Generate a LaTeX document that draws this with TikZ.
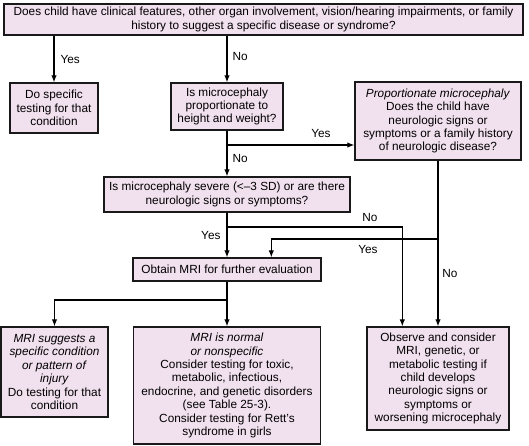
\documentclass[tikz,border=0pt]{standalone}
\usepackage{fontspec}
\setmainfont{Liberation Sans}
\usetikzlibrary{arrows.meta, positioning, calc}
\definecolor{cPink}{RGB}{241,224,238}
\tikzset{
	qbox/.style     ={rectangle, draw=black!90, line width=1.4pt, fill=cPink, align=center, inner sep=1pt},
	flowarrow/.style={-{Latex[length=7pt, width=5.5pt]}, line width=1.1pt},
	flowline/.style ={line width=1.1pt},
	lbl/.style      ={inner sep=0pt},
}

\begin{document}
\begin{tikzpicture}[x=1pt, y=-1pt, font=\fontsize{11.8}{13.4}\selectfont]
	\useasboundingbox (0,0) rectangle (529,445);
	% boxes
	\node[qbox, minimum width=519pt, minimum height=31pt] (top) at (263.5,19.5)
		{Does child have clinical features, other organ involvement, vision/hearing impairments, or family\\history to suggest a specific disease or syndrome?};
	\node[qbox, minimum width=88pt, minimum height=50pt] (spec) at (54,108)
		{Do specific\\testing for that\\condition};
	\node[qbox, minimum width=112pt, minimum height=47pt] (prop) at (227,106.5)
		{Is microcephaly\\proportionate to\\height and weight?};
	\node[qbox, minimum width=166pt, minimum height=78pt] (pmic) at (438,121)
		{\textit{Proportionate microcephaly}\\Does the child have\\neurologic signs or\\symptoms or a family history\\of neurologic disease?};
	\node[qbox, minimum width=246pt, minimum height=35pt] (severe) at (227,194.5)
		{Is microcephaly severe (\textless{}--3 SD) or are there\\neurologic signs or symptoms?};
	\node[qbox, minimum width=188pt, minimum height=23pt] (mri) at (227,269.5)
		{Obtain MRI for further evaluation};
	\node[qbox, minimum width=107pt, minimum height=90pt] (sugg) at (54.5,372)
		{\textit{MRI suggests a}\\\textit{specific condition}\\\textit{or pattern of}\\\textit{injury}\\Do testing for that\\condition};
	\node[qbox, minimum width=187pt, minimum height=117pt] (norm) at (227,385.5)
		{\textit{MRI is normal}\\\textit{or nonspecific}\\Consider testing for toxic,\\metabolic, infectious,\\endocrine, and genetic disorders\\(see Table 25-3).\\Consider testing for Rett’s\\syndrome in girls};
	\node[qbox, minimum width=142pt, minimum height=103pt] (obs) at (438,378.5)
		{Observe and consider\\MRI, genetic, or\\metabolic testing if\\child develops\\neurologic signs or\\symptoms or\\worsening microcephaly};
	% junctions
	\coordinate (j1) at (227,145);
	\coordinate (j2) at (227,227);
	\coordinate (j3) at (438,239);
	\coordinate (j4) at (227,300);
	% connectors
	\draw[flowarrow] (top.south -| spec.north) -- (spec.north) node[lbl, midway, right=6pt] {Yes};
	\draw[flowarrow] (top.south -| prop.north) -- (prop.north) node[lbl, midway, right=5pt, yshift=3pt] {No};
	\draw[flowarrow] (prop.south) -- (severe.north) node[lbl, pos=0.6, right=5pt] {No};
	\draw[flowarrow] (j1) -- (j1 -| pmic.west);
	\node[lbl] at (321,133) {Yes};
	\draw[flowarrow] (severe.south) -- (mri.north) node[lbl, midway, left=6pt] {Yes};
	\draw[flowarrow] (j2) -| ([xshift=36pt]obs.north west);
	\node[lbl] at (370,217) {No};
	\draw[flowarrow] (pmic.south) -- (obs.north);
	\node[lbl] at (450,273) {No};
	\draw[flowarrow] (j3) -| ([xshift=139pt]mri.north west);
	\node[lbl] at (368,249) {Yes};
	\draw[flowline] (mri.south) -- (j4);
	\draw[flowarrow] (j4) -- (norm.north);
	\draw[flowarrow] (j4) -| (sugg.north);
\end{tikzpicture}
\end{document}
